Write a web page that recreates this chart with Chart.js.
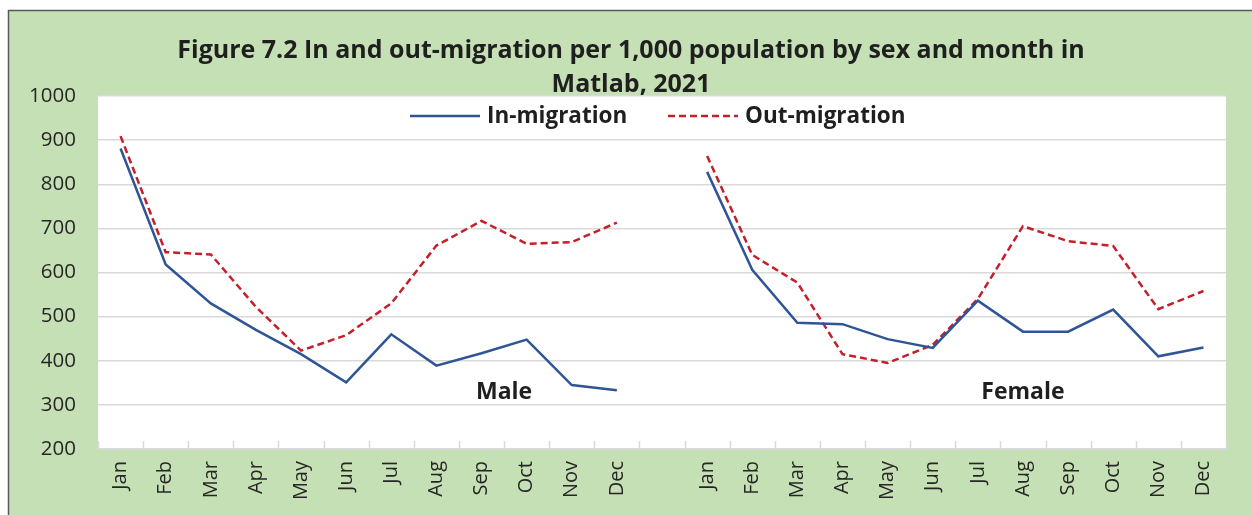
<!DOCTYPE html>
<html><head><meta charset="utf-8">
<script src="https://cdn.jsdelivr.net/npm/chart.js@4"></script>
<style>html,body{margin:0;padding:0;background:#fff}#wrap{width:1252px;height:515px;position:relative}</style>
</head><body><div id="wrap"><canvas id="c" width="1252" height="515"></canvas></div>
<script>
const months = ["Jan","Feb","Mar","Apr","May","Jun","Jul","Aug","Sep","Oct","Nov","Dec"];
const maleIn    = [881, 618, 530, 470, 415, 351, 460, 389, 417, 448, 345, 333];
const maleOut   = [909, 646, 641, 522, 423, 458, 530, 661, 717, 665, 669, 713];
const femaleIn  = [828, 606, 486, 483, 449, 429, 536, 466, 466, 516, 410, 430];
const femaleOut = [864, 640, 577, 415, 395, 436, 540, 705, 671, 660, 517, 558];
const yTicks = [200, 300, 400, 500, 600, 700, 800, 900, 1000];
const titleLines = ["Figure 7.2 In and out-migration per 1,000 population by sex and month in", "Matlab, 2021"];
const seriesNames = ["In-migration", "Out-migration"];
const groupNames = ["Male", "Female"];

const labels = [...months, "", ...months];
const inData = [...maleIn, null, ...femaleIn];
const outData = [...maleOut, null, ...femaleOut];

const BLUE = "#2f5597", RED = "#c3202b", GREEN = "#c5e0b4";
const FONT = "'Open Sans', Lato, sans-serif";

const deco = {
  id: "deco",
  beforeDraw(chart) {
    const {ctx, chartArea: a} = chart;
    ctx.save();
    ctx.fillStyle = "#fff";
    ctx.fillRect(0, 0, chart.width, chart.height);
    ctx.fillStyle = GREEN;
    ctx.fillRect(8, 10, chart.width - 8, chart.height - 10);
    ctx.strokeStyle = "#595959";
    ctx.lineWidth = 1.5;
    ctx.beginPath();
    ctx.moveTo(8.5, chart.height);
    ctx.lineTo(8.5, 10.5);
    ctx.lineTo(chart.width, 10.5);
    ctx.stroke();
    ctx.fillStyle = "#fff";
    ctx.fillRect(a.left, a.top, a.right - a.left, a.bottom - a.top);
    ctx.restore();
  },
  afterDraw(chart) {
    const {ctx, chartArea: a} = chart;
    const xs = chart.scales.x, ys = chart.scales.y;
    ctx.save();
    ctx.strokeStyle = "#d9d9d9";
    ctx.lineWidth = 1.5;
    const step = xs.getPixelForValue(1) - xs.getPixelForValue(0);
    for (let i = 0; i <= labels.length; i++) {
      const x = Math.round(xs.getPixelForValue(0) - step / 2 + i * step) + 0.5;
      ctx.beginPath();
      ctx.moveTo(x, a.bottom);
      ctx.lineTo(x, a.bottom - 8);
      ctx.stroke();
    }
    ctx.fillStyle = "#1f1f1f";
    ctx.font = "bold 25px " + FONT;
    ctx.textAlign = "center";
    ctx.textBaseline = "middle";
    ctx.fillText(titleLines[0], 631, 51);
    ctx.fillText(titleLines[1], 631, 85);
    ctx.font = "bold 22.5px " + FONT;
    ctx.textAlign = "left";
    ctx.lineWidth = 2.5;
    ctx.strokeStyle = BLUE;
    ctx.beginPath(); ctx.moveTo(410, 116); ctx.lineTo(480, 116); ctx.stroke();
    ctx.fillText(seriesNames[0], 487, 117);
    ctx.strokeStyle = RED;
    ctx.setLineDash([7, 4]);
    ctx.beginPath(); ctx.moveTo(668, 116); ctx.lineTo(738, 116); ctx.stroke();
    ctx.setLineDash([]);
    ctx.fillText(seriesNames[1], 745, 117);
    ctx.textAlign = "center";
    ctx.font = "bold 23px " + FONT;
    ctx.fillText(groupNames[0], xs.getPixelForValue(8.5), ys.getPixelForValue(328));
    ctx.fillText(groupNames[1], xs.getPixelForValue(20), ys.getPixelForValue(328));
    ctx.restore();
  }
};

new Chart(document.getElementById("c"), {
  type: "line",
  data: {
    labels,
    datasets: [
      {label: seriesNames[0], data: inData, borderColor: BLUE, borderWidth: 2.5, pointRadius: 0, tension: 0, spanGaps: false},
      {label: seriesNames[1], data: outData, borderColor: RED, borderWidth: 2.5, borderDash: [7, 4], pointRadius: 0, tension: 0, spanGaps: false}
    ]
  },
  options: {
    responsive: false,
    animation: false,
    layout: {padding: {left: 0, right: 26, top: 96, bottom: 0}},
    plugins: {legend: {display: false}, tooltip: {enabled: false}, title: {display: false}},
    scales: {
      x: {
        offset: true,
        grid: {display: false, drawTicks: false},
        border: {display: true, color: "#d9d9d9", width: 1.5},
        ticks: {autoSkip: false, minRotation: 90, maxRotation: 90, padding: 12, color: "#262626", font: {family: FONT, size: 20}},
        afterFit(s) { s.height = 66; }
      },
      y: {
        min: 200, max: 1000,
        afterBuildTicks(s) { s.ticks = yTicks.map(v => ({value: v})); },
        grid: {color: "#d9d9d9", lineWidth: 1.5, drawTicks: false},
        border: {display: false},
        ticks: {padding: 22, color: "#262626", font: {family: FONT, size: 20.5}, callback: v => String(v)},
        afterFit(s) { s.width = 98; }
      }
    }
  },
  plugins: [deco]
});
</script>
</body></html>
